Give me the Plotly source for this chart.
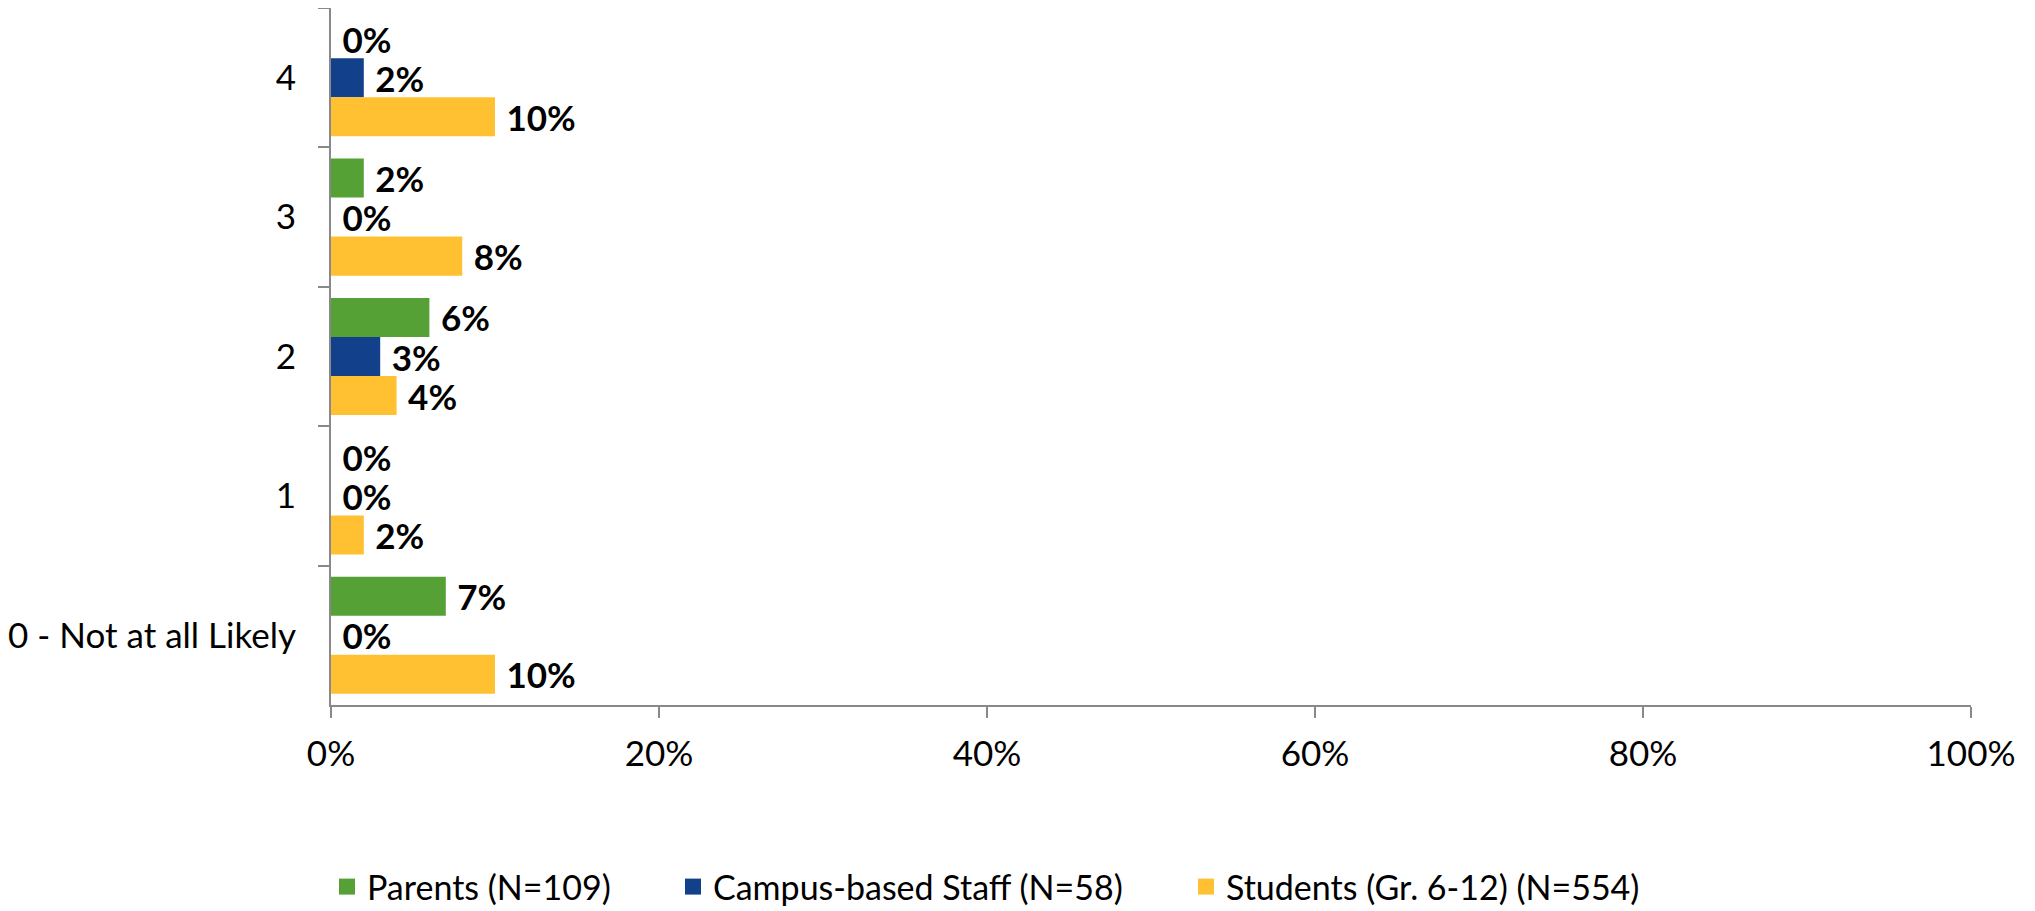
import plotly.graph_objects as go

categories = ["4", "3", "2", "1", "0 - Not at all Likely"]
parents = [0, 2, 6, 0, 7]
staff = [2, 0, 3, 0, 0]
students = [10, 8, 4, 2, 10]
series_names = ["Parents (N=109)", "Campus-based Staff (N=58)", "Students (Gr. 6-12) (N=554)"]
colors = ["#55A136", "#13408A", "#FFC132"]
x_ticks = [0, 20, 40, 60, 80, 100]
x_tick_labels = ["0%", "20%", "40%", "60%", "80%", "100%"]

FONT = "Lato"
FS = 35
FIG_W, FIG_H = 2027, 903
fig = go.Figure()
for name, vals, col in zip(series_names, [parents, staff, students], colors):
    fig.add_trace(go.Bar(
        y=categories, x=vals, orientation="h", name=name,
        marker=dict(color=col, line=dict(width=0)),
        text=[str(v) for v in vals], texttemplate="\u00a0%{text}%", textposition="outside",
        textfont=dict(family=FONT, size=FS, color="black", weight="bold"),
        constraintext="none", cliponaxis=False, showlegend=False,
        hoverinfo="skip",
    ))

legend_x_px = [327, 673, 1186]
for i, (name, col) in enumerate(zip(series_names, colors)):
    lname = "legend" if i == 0 else f"legend{i+1}"
    fig.add_trace(go.Scatter(
        x=[None], y=[None], mode="markers", name=name,
        marker=dict(symbol="square", color=col, size=21),
        legend=lname, showlegend=True,
    ))
    fig.update_layout({lname: dict(
        xref="container", yref="container",
        x=(legend_x_px[i] - 8) / FIG_W, xanchor="left",
        y=(FIG_H - 879) / FIG_H, yanchor="middle", orientation="h",
        font=dict(family=FONT, size=34, color="black"),
        bgcolor="rgba(0,0,0,0)", borderwidth=0, itemsizing="trace",
    )})

fig.update_layout(
    width=FIG_W, height=FIG_H,
    margin=dict(l=323, r=64, t=0, b=206, autoexpand=False),
    paper_bgcolor="white", plot_bgcolor="white",
    barmode="group", bargap=0.16, bargroupgap=0,
    font=dict(family=FONT, size=FS, color="black"),
    xaxis=dict(
        range=[0, 100], tickmode="array", tickvals=x_ticks, ticktext=x_tick_labels,
        showgrid=False, zeroline=False, showline=True, linecolor="#898989", linewidth=2,
        ticks="outside", ticklen=11, tickwidth=2, tickcolor="#898989",
        ticklabelstandoff=6, tickfont=dict(family=FONT, size=FS, color="black"),
        fixedrange=True,
    ),
    yaxis=dict(
        categoryorder="array", categoryarray=categories, autorange="reversed",
        showgrid=False, zeroline=False, showline=True, linecolor="#898989", linewidth=2,
        ticks="outside", tickson="boundaries", ticklen=11, tickwidth=2, tickcolor="#898989",
        ticklabelstandoff=26, tickfont=dict(family=FONT, size=FS, color="black"),
        fixedrange=True,
    ),
)

fig.write_html("out.html")
